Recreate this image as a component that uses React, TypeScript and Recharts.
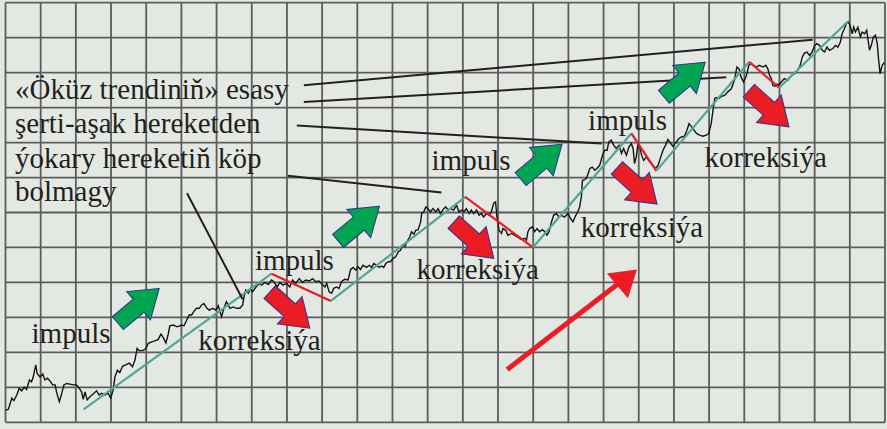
import React from 'react';
import {
  ComposedChart,
  XAxis,
  YAxis,
  CartesianGrid,
  Line,
  Scatter,
  ReferenceLine,
} from 'recharts';

// units: one grid cell = 1 (25 columns, 12 rows)
const xTicks = Array.from({ length: 26 }, (_, i) => i);
const yTicks = Array.from({ length: 13 }, (_, i) => i);

// price path [x, y]
const price: [number, number][] = [
  [0, 0.35], [0.08, 0.37], [0.18, 0.69], [0.24, 0.62], [0.32, 0.78], [0.39, 0.97],
  [0.46, 0.9], [0.53, 1.0], [0.6, 0.94], [0.68, 1.21], [0.74, 1.16], [0.79, 1.3],
  [0.86, 1.64], [0.9, 1.4], [0.98, 1.3], [1.06, 1.38], [1.12, 1.21], [1.19, 1.26],
  [1.26, 1.19], [1.34, 1.07], [1.41, 1.07], [1.45, 0.87], [1.53, 0.59], [1.6, 0.83],
  [1.66, 1.07], [1.74, 1.11], [1.83, 1.09], [1.93, 1.07], [2.02, 1.07], [2.1, 0.97],
  [2.16, 0.87], [2.21, 0.66], [2.26, 0.87], [2.32, 0.64], [2.4, 0.73], [2.49, 0.81],
  [2.59, 0.9], [2.66, 0.78], [2.73, 0.83], [2.83, 0.78], [2.92, 0.83], [2.99, 0.69],
  [3.06, 0.92], [3.11, 1.3], [3.18, 1.49], [3.25, 1.42], [3.33, 1.61], [3.42, 1.64],
  [3.52, 1.69], [3.61, 1.59], [3.68, 1.78], [3.74, 2.11], [3.8, 2.05], [3.9, 2.05],
  [3.99, 2.11], [4.06, 2.26], [4.15, 2.3], [4.25, 2.33], [4.34, 2.37], [4.42, 2.52],
  [4.48, 2.43], [4.56, 2.27], [4.63, 2.54], [4.67, 2.76], [4.77, 2.78], [4.88, 2.73],
  [5.01, 2.78], [5.07, 2.76], [5.15, 2.92], [5.22, 3.07], [5.29, 3.07], [5.36, 3.18],
  [5.43, 3.26], [5.51, 3.26], [5.57, 3.35], [5.64, 3.4], [5.72, 3.27], [5.79, 3.21],
  [5.89, 3.26], [5.98, 3.21], [6.05, 3.33], [6.14, 3.02], [6.21, 3.26], [6.28, 3.45],
  [6.38, 3.26], [6.47, 3.3], [6.57, 3.26], [6.66, 3.26], [6.74, 3.35], [6.78, 3.59],
  [6.83, 3.78], [6.9, 3.69], [6.97, 3.83], [7.02, 3.73], [7.12, 3.87], [7.21, 3.97],
  [7.28, 3.92], [7.37, 4.0], [7.47, 3.94], [7.56, 4.07], [7.63, 4.02], [7.72, 3.87],
  [7.8, 4.0], [7.89, 3.92], [7.99, 3.97], [8.08, 3.87], [8.16, 4.07], [8.25, 3.97],
  [8.35, 4.11], [8.44, 4.0], [8.54, 4.07], [8.63, 4.04], [8.73, 4.11], [8.82, 4.02],
  [8.91, 4.04], [9.01, 3.94], [9.08, 3.87], [9.13, 3.97], [9.2, 3.73], [9.27, 3.69],
  [9.33, 3.83], [9.41, 3.87], [9.48, 3.83], [9.55, 4.02], [9.64, 4.09], [9.74, 4.07],
  [9.81, 4.37], [9.88, 4.43], [9.96, 4.35], [10.02, 4.45], [10.09, 4.37], [10.16, 4.49],
  [10.26, 4.43], [10.34, 4.49], [10.4, 4.43], [10.47, 4.54], [10.55, 4.49], [10.62, 4.43],
  [10.69, 4.47], [10.75, 4.43], [10.81, 4.54], [10.88, 4.59], [10.94, 4.59], [11.02, 4.69],
  [11.09, 4.73], [11.16, 4.87], [11.23, 4.92], [11.28, 5.07], [11.35, 5.02], [11.41, 5.16],
  [11.49, 5.3], [11.54, 5.45], [11.61, 5.38], [11.66, 5.49], [11.73, 5.51], [11.8, 5.73],
  [11.83, 5.97], [11.89, 6.02], [11.95, 6.16], [12.01, 6.11], [12.08, 6.02], [12.15, 6.11],
  [12.23, 6.02], [12.3, 6.11], [12.36, 5.97], [12.44, 6.09], [12.51, 6.16], [12.58, 6.07],
  [12.65, 6.11], [12.74, 6.07], [12.82, 6.21], [12.89, 6.02], [12.96, 6.07], [13.03, 6.02],
  [13.1, 6.11], [13.18, 5.97], [13.24, 6.07], [13.31, 5.97], [13.39, 6.07], [13.46, 5.92],
  [13.53, 5.97], [13.59, 5.87], [13.67, 5.97], [13.74, 5.92], [13.81, 6.02], [13.88, 6.27],
  [13.93, 6.3], [13.97, 5.87], [14.03, 5.49], [14.1, 5.4], [14.14, 5.54], [14.22, 5.49],
  [14.28, 5.35], [14.38, 5.4], [14.47, 5.35], [14.57, 5.29], [14.66, 5.23], [14.76, 5.26],
  [14.81, 5.21], [14.85, 5.45], [14.9, 5.54], [14.98, 5.59], [15.04, 5.45], [15.11, 5.54],
  [15.18, 5.45], [15.26, 5.51], [15.33, 5.45], [15.39, 5.35], [15.45, 5.45], [15.52, 5.73],
  [15.58, 5.92], [15.66, 5.97], [15.73, 5.87], [15.8, 5.92], [15.89, 5.87], [15.99, 5.97],
  [16.06, 5.83], [16.13, 5.73], [16.21, 5.92], [16.27, 6.02], [16.32, 6.16], [16.37, 6.45],
  [16.4, 6.92], [16.46, 6.94], [16.51, 6.97], [16.56, 7.11], [16.61, 7.26], [16.68, 7.3],
  [16.75, 7.21], [16.81, 7.26], [16.89, 7.35], [16.97, 7.64], [17.03, 7.78], [17.1, 7.78],
  [17.15, 8.02], [17.22, 8.07], [17.29, 7.92], [17.36, 7.83], [17.44, 7.92], [17.51, 7.69],
  [17.57, 7.83], [17.65, 7.64], [17.72, 7.87], [17.79, 7.97], [17.84, 7.83], [17.88, 7.4],
  [17.93, 7.59], [17.98, 7.97], [18.03, 7.87], [18.08, 7.64], [18.14, 7.49], [18.22, 7.59],
  [18.31, 7.45], [18.4, 7.35], [18.48, 7.26], [18.55, 7.35], [18.61, 7.54], [18.69, 7.78],
  [18.76, 7.92], [18.83, 8.09], [18.9, 7.99], [18.97, 7.89], [19.07, 8.02], [19.14, 8.11],
  [19.21, 8.16], [19.3, 8.18], [19.37, 8.35], [19.43, 8.54], [19.47, 8.49], [19.54, 8.4],
  [19.64, 8.26], [19.73, 8.21], [19.82, 8.18], [19.92, 8.21], [19.99, 8.26], [20.06, 8.54],
  [20.11, 8.92], [20.16, 9.26], [20.2, 9.29], [20.28, 9.26], [20.35, 9.32], [20.44, 9.35],
  [20.53, 9.45], [20.63, 9.54], [20.72, 9.78], [20.79, 10.16], [20.85, 10.11], [20.91, 9.87],
  [20.98, 9.73], [21.06, 9.92], [21.13, 10.21], [21.2, 10.26], [21.26, 10.21], [21.34, 10.16],
  [21.43, 10.21], [21.53, 10.16], [21.61, 10.21], [21.67, 10.11], [21.72, 9.92], [21.77, 9.83],
  [21.81, 9.64], [21.87, 9.61], [21.93, 9.67], [21.98, 9.64], [22.05, 9.73], [22.14, 9.83],
  [22.24, 9.78], [22.34, 9.92], [22.43, 9.97], [22.52, 10.07], [22.59, 10.21], [22.65, 10.45],
  [22.71, 10.56], [22.78, 10.59], [22.86, 10.49], [22.93, 10.59], [23.0, 10.78], [23.06, 10.83],
  [23.14, 10.78], [23.22, 10.64], [23.28, 10.59], [23.35, 10.73], [23.42, 10.64], [23.52, 10.69],
  [23.59, 10.78], [23.66, 10.73], [23.73, 10.87], [23.78, 11.11], [23.85, 11.26], [23.9, 11.4],
  [23.95, 11.45], [24.01, 11.35], [24.07, 11.11], [24.11, 11.3], [24.16, 11.16], [24.23, 11.3],
  [24.3, 11.02], [24.35, 11.16], [24.42, 11.11], [24.48, 11.21], [24.56, 10.64], [24.61, 10.78],
  [24.67, 11.02], [24.73, 11.07], [24.78, 10.83], [24.82, 10.35], [24.86, 9.97], [24.92, 10.21],
  [24.99, 10.3],
];

// impulse / correction turning points
const pivots: [number, number][] = [
  [2.22, 0.37], [7.56, 4.25], [9.25, 3.47], [13.07, 6.45], [14.99, 5.0],
  [17.79, 8.26], [18.5, 7.19], [21.14, 10.31], [21.99, 9.57], [23.95, 11.47],
];

// black leader lines from the caption
const leaders: [number, number][][] = [
  [[8.48, 9.64], [22.94, 10.94]],
  [[8.48, 9.16], [20.49, 9.87]],
  [[8.28, 8.49], [16.94, 7.97]],
  [[8.03, 7.05], [12.39, 6.57]],
  [[5.16, 6.55], [6.74, 3.52]],
];

// arrow tips
const greenArrows = [
  { x: 4.37, y: 3.83 },
  { x: 10.63, y: 6.18 },
  { x: 15.82, y: 7.95 },
  { x: 19.89, y: 10.3 },
];
const redArrows = [
  { x: 8.65, y: 2.69 },
  { x: 13.88, y: 4.69 },
  { x: 18.52, y: 6.24 },
  { x: 22.27, y: 8.45 },
];
const bigShaft: [number, number][] = [[14.26, 1.51], [17.58, 4.09]];
const bigHead = [{ x: 17.95, y: 4.37 }];

const labels = [
  { x: 0.27, y: 9.26, text: '«Öküz trendiniň» esasy' },
  { x: 0.27, y: 8.27, text: 'şerti-aşak hereketden' },
  { x: 0.27, y: 7.27, text: 'ýokary hereketiň köp' },
  { x: 0.27, y: 6.32, text: 'bolmagy' },
  { x: 0.74, y: 2.27, text: 'impuls' },
  { x: 5.48, y: 2.07, text: 'korreksiýa' },
  { x: 7.09, y: 4.35, text: 'impuls' },
  { x: 12.11, y: 7.21, text: 'impuls' },
  { x: 11.68, y: 4.11, text: 'korreksiýa' },
  { x: 16.56, y: 8.37, text: 'impuls' },
  { x: 16.35, y: 5.3, text: 'korreksiýa' },
  { x: 19.87, y: 7.3, text: 'korreksiýa' },
];

const BG = '#e4e8e3';
const GRID = '#5c5c5c';
const TEAL = '#4fa697';
const RED = '#ec1c24';
const GREEN = '#00a551';
const OUTLINE = '#2e3192';
const INK = '#231f20';

const priceData = price.map(([x, y]) => ({ x, y }));
const segments = pivots.slice(1).map((p, i) => ({
  from: pivots[i],
  to: p,
  color: i % 2 === 0 ? TEAL : RED,
}));

const blockArrow = (fill: string, angle: number) => (props: any) => {
  const { cx, cy } = props;
  const pts = [
    [0, 0], [-27, -18.5], [-27, -8.5], [-54, -8.5],
    [-54, 8.5], [-27, 8.5], [-27, 18.5],
  ]
    .map((p) => p.join(','))
    .join(' ');
  return (
    <polygon
      points={pts}
      transform={`translate(${cx} ${cy}) rotate(${angle})`}
      fill={fill}
      stroke={OUTLINE}
      strokeWidth={1}
    />
  );
};

const headShape = (props: any) => {
  const { cx, cy } = props;
  return (
    <polygon
      points="0,0 -25.5,-16.3 -25.5,16.3"
      transform={`translate(${cx} ${cy}) rotate(-40)`}
      fill={RED}
    />
  );
};

const labelShape = (props: any) => (
  <text
    x={props.cx}
    y={props.cy}
    fill={INK}
    fontSize={29}
    fontFamily="'Liberation Serif', 'Times New Roman', serif"
  >
    {props.payload.text}
  </text>
);

export default function App() {
  return (
    <div
      style={{
        position: 'absolute',
        left: 0,
        top: 0,
        width: 887,
        height: 429,
        background: BG,
      }}
    >
      <ComposedChart
        width={887}
        height={429}
        margin={{ top: 2.7, right: 2, bottom: 6.7, left: 5.5 }}
      >
        <XAxis
          type="number"
          dataKey="x"
          domain={[0, 25]}
          ticks={xTicks}
          allowDataOverflow
          hide
        />
        <YAxis
          type="number"
          dataKey="y"
          domain={[0, 12]}
          ticks={yTicks}
          allowDataOverflow
          hide
        />
        <CartesianGrid stroke={GRID} strokeWidth={1.8} fill={BG} />

        <Scatter data={greenArrows} shape={blockArrow(GREEN, -40)} isAnimationActive={false} />
        <Scatter data={redArrows} shape={blockArrow(RED, 42)} isAnimationActive={false} />

        <Line
          data={priceData}
          dataKey="y"
          type="linear"
          stroke="#141414"
          strokeWidth={1.4}
          dot={false}
          activeDot={false}
          isAnimationActive={false}
        />

        {segments.map((s, i) => (
          <ReferenceLine
            key={`seg-${i}`}
            segment={[
              { x: s.from[0], y: s.from[1] },
              { x: s.to[0], y: s.to[1] },
            ]}
            stroke={s.color}
            strokeWidth={2.2}
          />
        ))}

        {leaders.map((l, i) => (
          <ReferenceLine
            key={`lead-${i}`}
            segment={[
              { x: l[0][0], y: l[0][1] },
              { x: l[1][0], y: l[1][1] },
            ]}
            stroke={INK}
            strokeWidth={2}
          />
        ))}

        <ReferenceLine
          segment={[
            { x: bigShaft[0][0], y: bigShaft[0][1] },
            { x: bigShaft[1][0], y: bigShaft[1][1] },
          ]}
          stroke={RED}
          strokeWidth={5}
        />
        <Scatter data={bigHead} shape={headShape} isAnimationActive={false} />

        <Scatter data={labels} shape={labelShape} isAnimationActive={false} />
      </ComposedChart>
    </div>
  );
}
